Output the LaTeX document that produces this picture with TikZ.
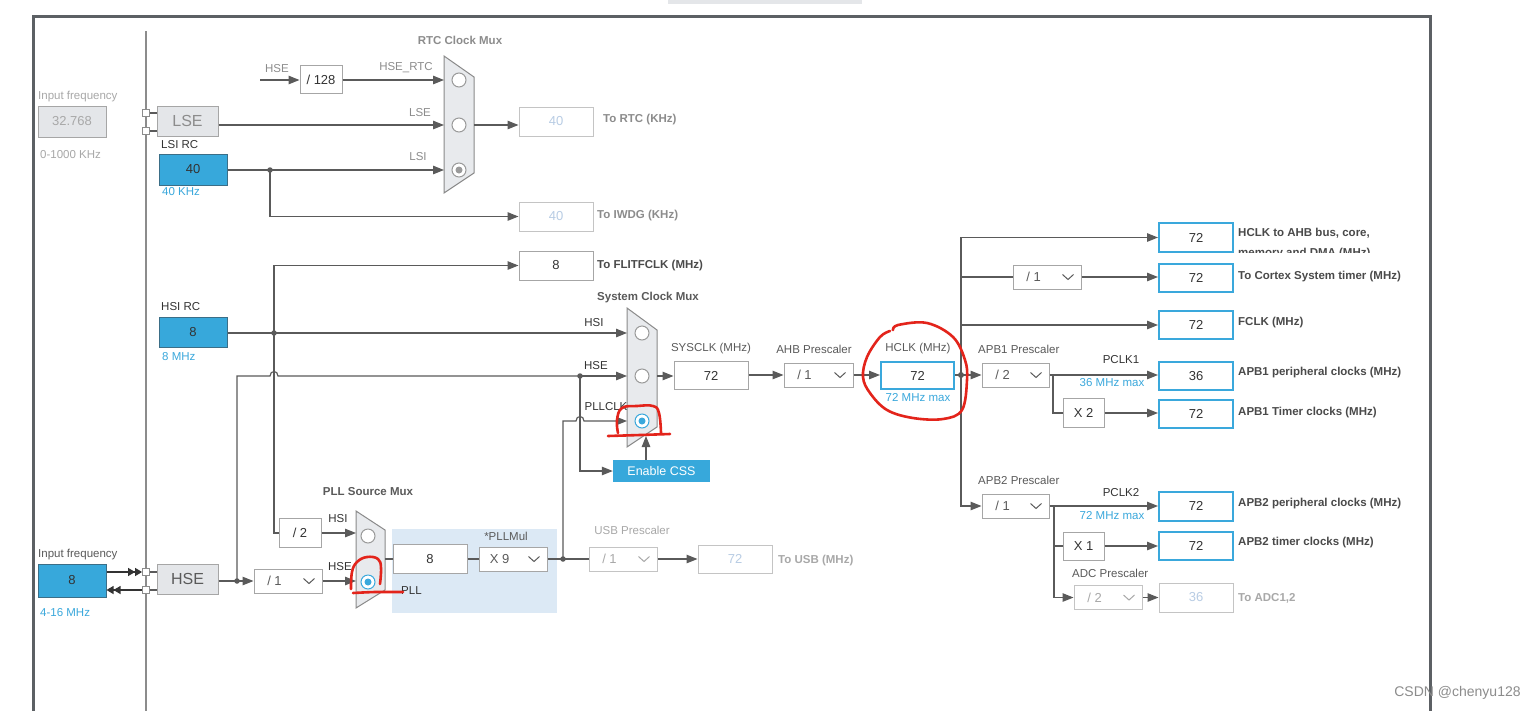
\documentclass[tikz,border=0pt]{standalone}
\usepackage{fontspec}
\setmainfont{Liberation Sans}
\usetikzlibrary{arrows.meta}
\definecolor{wirec}{HTML}{5A5A5A}
\definecolor{boxd}{HTML}{A6A6A6}
\definecolor{boxl}{HTML}{C4C4C4}
\definecolor{bluef}{HTML}{37A8DB}
\definecolor{bluedk}{HTML}{3B6E87}
\definecolor{blueb}{HTML}{3AA8DC}
\definecolor{lgray}{HTML}{E4E6E9}
\definecolor{txtd}{HTML}{333333}
\definecolor{txtr}{HTML}{4A4A4A}
\definecolor{txtg}{HTML}{8C8C8C}
\definecolor{txtg2}{HTML}{5A5A5A}
\definecolor{txtl}{HTML}{A8A8A8}
\definecolor{dis}{HTML}{B8CCE4}
\definecolor{pllbg}{HTML}{DCE9F5}
\definecolor{muxf}{HTML}{E8EAED}
\definecolor{muxd}{HTML}{8A8A8A}
\definecolor{radc}{HTML}{9A9A9A}
\definecolor{redmk}{HTML}{E3241B}
\definecolor{framec}{HTML}{5C6064}
\newcommand\myfl{\fontsize{11.5}{13}\selectfont}
\newcommand\myfv{\fontsize{13}{15}\selectfont}
\newcommand\myfb{\fontsize{16}{18}\selectfont}
\newcommand\myfe{\fontsize{12.5}{14}\selectfont}
\tikzset{
 wire/.style={draw=wirec, line width=1.15pt},
 arr/.style={-{Triangle[length=11pt,width=8.5pt]}},
 vbox/.style={draw=boxd, fill=white, line width=1pt, inner sep=0pt, font=\myfv, text=txtd},
 bbox/.style={draw=blueb, fill=white, line width=2pt, inner sep=0pt, font=\myfv, text=txtd},
 dbox/.style={draw=boxl, fill=white, line width=1pt, inner sep=0pt, font=\myfv, text=dis},
 ibox/.style={draw=bluedk, fill=bluef, line width=1pt, inner sep=0pt, font=\myfv, text=txtd},
 gbox/.style={draw=boxd, fill=lgray, line width=1pt, inner sep=0pt},
 lbl/.style={font=\myfl, text=txtd, inner sep=0pt},
 rl/.style={font=\myfl\bfseries, text=txtr, anchor=west, inner sep=0pt},
 mt/.style={font=\myfl\bfseries, text=txtg2, inner sep=0pt},
 jdot/.style={circle, fill=wirec, inner sep=0pt, minimum size=5.5pt},
 sqr/.style={draw=txtg, fill=white, minimum size=7pt, inner sep=0pt, line width=0.8pt},
 mux/.style={fill=muxf, draw=muxd, line width=1pt},
 rad/.style={circle, draw=radc, fill=white, minimum size=14pt, inner sep=0pt, line width=1pt},
 radsel/.style={circle, draw=blueb, fill=white, minimum size=14pt, inner sep=0pt, line width=1pt},
 redm/.style={draw=redmk, line width=2.6pt, line cap=round, line join=round},
}
% name, x, y, width, text, text colour, border colour
\newcommand\ddn[7]{%
 \node[draw=#7, fill=white, line width=1pt, minimum width=#4pt, minimum height=24pt, inner sep=0pt] (#1) at (#2,#3) {};
 \node[font=\myfv, text=#6, inner sep=0pt] at ([xshift=21pt]#1.west) {#5};
 \draw[#6, line width=1pt] ([xshift=-19pt,yshift=2.5pt]#1.east) -- ([xshift=-13.5pt,yshift=-2.5pt]#1.east) -- ([xshift=-8pt,yshift=2.5pt]#1.east);}
\begin{document}
\begin{tikzpicture}[x=1pt,y=-1pt]
\useasboundingbox (0,0) rectangle (1536,710);
\clip (0,0) rectangle (1536,710);
\fill[white] (0,0) rectangle (1536,710);
\fill[lgray] (668,0) rectangle (862,4);
\draw[framec, line width=3pt] (33,16) rectangle (1430,740);
\draw[txtg, line width=1.2pt] (146,31) -- (146,712);

% ---------- LSE / LSI ----------
\node[lbl, anchor=west, text=txtl] at (38,97) {Input frequency};
\node[gbox, minimum width=68pt, minimum height=31pt, font=\myfv, text=txtl] (lsein) at (72,121.5) {32.768};
\node[lbl, anchor=west, text=txtl] at (40,155) {0-1000 KHz};
\node[sqr] (sqa) at (146,113) {};
\node[sqr] (sqb) at (146,131) {};
\node[gbox, minimum width=61pt, minimum height=30pt, font=\myfb, text=txtg] (lse) at (187.5,121) {LSE};
\draw[wire] (sqa.east) -- (sqa -| lse.west);
\draw[wire] (sqb.east) -- (sqb -| lse.west);
\node[lbl, anchor=west] at (161,145) {LSI RC};
\node[ibox, minimum width=68pt, minimum height=31pt] (lsi) at (193,169.5) {40};
\node[lbl, anchor=west, text=blueb] at (162,192) {40 KHz};

% ---------- RTC mux ----------
\draw[mux] (444,56) -- (474,77) -- (474,173) -- (444,193) -- cycle;
\node[rad] (r1) at (459,80) {};
\node[rad] (r2) at (459,125) {};
\node[rad] (r3) at (459,170) {};
\fill[radc] (r3) circle (3.5pt);
\coordinate (rin1) at (444,80);
\coordinate (rin2) at (444,125);
\coordinate (rin3) at (444,170);
\coordinate (rout) at (474,125);
\node[mt, text=txtg] at (460,40) {RTC Clock Mux};
\coordinate (hsefree) at (260,80);
\node[vbox, minimum width=42pt, minimum height=28pt] (d128) at (321,79.5) {/ 128};
\draw[wire,arr] (hsefree) -- (d128.west |- hsefree);
\node[lbl, text=txtg] at (277,69) {HSE};
\draw[wire,arr] (d128.east |- rin1) -- (rin1);
\node[lbl, text=txtg] at (406,68) {HSE\_RTC};
\draw[wire,arr] (lse.east |- rin2) -- (rin2);
\node[lbl, text=txtg] at (420,113) {LSE};
\draw[wire,arr] (lsi.east |- rin3) -- (rin3);
\node[jdot] (lsij) at (270,170) {};
\node[lbl, text=txtg] at (418,157) {LSI};
\node[dbox, minimum width=74pt, minimum height=29pt] (rtc) at (556,121.5) {40};
\draw[wire,arr] (rout) -- (rtc.west |- rout);
\node[rl, text=txtg] at (603,120) {To RTC (KHz)};
\node[dbox, minimum width=74pt, minimum height=29pt] (iwdg) at (556,216.5) {40};
\draw[wire,arr] (lsij.center) |- (iwdg.west);
\node[rl, text=txtg] at (597,216) {To IWDG (KHz)};

% ---------- HSI / system mux ----------
\node[vbox, minimum width=74pt, minimum height=29pt] (flit) at (556,265.5) {8};
\node[rl] at (597,266) {To FLITFCLK (MHz)};
\node[lbl, anchor=west] at (161,307) {HSI RC};
\node[ibox, minimum width=68pt, minimum height=30pt] (hsi) at (193,332) {8};
\node[lbl, anchor=west, text=blueb] at (162,357) {8 MHz};

\draw[mux] (627,308) -- (657,330) -- (657,427) -- (627,447) -- cycle;
\node[rad] (s1) at (642,333) {};
\node[rad] (s2) at (642,376) {};
\node[radsel] (s3) at (642,421) {};
\fill[blueb] (s3) circle (3.5pt);
\coordinate (sin1) at (627,333);
\coordinate (sin2) at (627,376);
\coordinate (sin3) at (627,421);
\coordinate (sout) at (657,376);
\coordinate (cssup) at (646,436);
\node[mt] at (648,298) {System Clock Mux};

\node[jdot] (hsij) at (274,333) {};
\draw[wire,arr] (hsi.east |- sin1) -- (sin1);
\node[lbl] at (594,323) {HSI};
\draw[wire,arr] (hsij.center) |- (flit.west);

\node[jdot] (hsej) at (580,376) {};
\node[jdot] (hsebj) at (237,581) {};
\draw[wire] (hsebj.center) -- (237,376) -- (270,376) .. controls (270,370) and (278,370) .. (278,376) -- (hsej.center);
\draw[wire,arr] (hsej.center) -- (sin2);
\node[lbl] at (596,366) {HSE};
\node[fill=bluef, text=white, font=\myfe, minimum width=97pt, minimum height=22pt, inner sep=0pt] (css) at (661.5,471) {Enable CSS};
\draw[wire,arr] (hsej.center) |- (css.west);
\draw[wire,arr] (css.north -| cssup) -- (cssup);

\node[jdot] (pllj) at (563,559) {};
\draw[wire,arr] (pllj.center) -- (563,421) -- (576,421) .. controls (576,415) and (584,415) .. (584,421) -- (sin3);
\node[lbl] at (606,407) {PLLCLK};

\node[vbox, minimum width=74pt, minimum height=28pt] (sys) at (711,375.5) {72};
\draw[wire,arr] (sout) -- (sys.west |- sout);
\node[lbl, text=txtg2] at (711,349) {SYSCLK (MHz)};
\ddn{ahb}{818.5}{375}{69}{/ 1}{txtg2}{boxd}
\draw[wire,arr] (sys.east |- ahb.west) -- (ahb.west);
\node[lbl, text=txtg2] at (814,349) {AHB Prescaler};
\node[bbox, minimum width=73pt, minimum height=27pt] (hclk) at (917.5,375.5) {72};
\draw[wire,arr] (ahb.east) -- (hclk.west |- ahb.east);
\node[lbl, text=txtg2] at (918,349) {HCLK (MHz)};
\node[lbl, text=blueb] at (918,398) {72 MHz max};

% ---------- right side ----------
\node[circle, fill=wirec, inner sep=0pt, minimum size=6pt] (hj) at (961,375) {};
\draw[wire] (hclk.east |- hj) -- (hj.center);
\ddn{apb1}{1015.5}{375}{67}{/ 2}{txtg2}{boxd}
\draw[wire,arr] (hj.center) -- (apb1.west);
\node[lbl, anchor=west, text=txtg2] at (978,349) {APB1 Prescaler};

\node[bbox, minimum width=74pt, minimum height=29pt] (oahb) at (1196,237.5) {72};
\draw[wire,arr] (hj.center) |- (oahb.west);
\node[rl] at (1238,233) {HCLK to AHB bus, core,};
\begin{scope}
\clip (1236,240) rectangle (1425,252.5);
\node[font=\myfl\bfseries, text=txtr, anchor=base west, inner sep=0pt] at (1238,256) {memory and DMA (MHz)};
\end{scope}

\ddn{cdd}{1047}{277}{68}{/ 1}{txtg2}{boxd}
\node[bbox, minimum width=74pt, minimum height=28pt] (ocort) at (1196,278) {72};
\draw[wire] (hj |- cdd.west) -- (cdd.west);
\draw[wire,arr] (cdd.east) -- (ocort.west |- cdd.east);
\node[rl] at (1238,277) {To Cortex System timer (MHz)};

\node[bbox, minimum width=74pt, minimum height=28pt] (ofclk) at (1196,325) {72};
\draw[wire,arr] (hj |- ofclk.west) -- (ofclk.west);
\node[rl] at (1238,323) {FCLK (MHz)};

\node[bbox, minimum width=74pt, minimum height=28pt] (oapb1) at (1196,376) {36};
\draw[wire,arr] (apb1.east) -- (oapb1.west |- apb1.east);
\node[lbl] at (1121,360) {PCLK1};
\node[lbl, text=blueb] at (1112,383) {36 MHz max};
\node[rl] at (1238,373) {APB1 peripheral clocks (MHz)};
\coordinate (b1) at (1053,375);
\node[vbox, minimum width=41pt, minimum height=29pt] (x2) at (1083.5,413) {X 2};
\draw[wire] (b1) |- (x2.west);
\node[bbox, minimum width=74pt, minimum height=28pt] (otim1) at (1196,414) {72};
\draw[wire,arr] (x2.east) -- (otim1.west |- x2.east);
\node[rl] at (1238,413) {APB1 Timer clocks (MHz)};

\ddn{apb2}{1015.5}{506}{67}{/ 1}{txtg2}{boxd}
\draw[wire,arr] (hj.center) |- (apb2.west);
\node[lbl, anchor=west, text=txtg2] at (978,480) {APB2 Prescaler};
\node[bbox, minimum width=74pt, minimum height=29pt] (oapb2) at (1196,506) {72};
\draw[wire,arr] (apb2.east) -- (oapb2.west |- apb2.east);
\node[lbl] at (1121,493) {PCLK2};
\node[lbl, text=blueb] at (1112,516) {72 MHz max};
\node[rl] at (1238,504) {APB2 peripheral clocks (MHz)};
\coordinate (b2) at (1054,506);
\node[vbox, minimum width=41pt, minimum height=28pt] (x1) at (1083.5,546) {X 1};
\draw[wire] (b2 |- x1.west) -- (x1.west);
\node[bbox, minimum width=74pt, minimum height=28pt] (otim2) at (1196,546) {72};
\draw[wire,arr] (x1.east) -- (otim2.west |- x1.east);
\node[rl] at (1238,543) {APB2 timer clocks (MHz)};
\node[lbl, anchor=west, text=txtg2] at (1072,573) {ADC Prescaler};
\ddn{adcdd}{1108}{597.5}{68}{/ 2}{txtl}{boxl}
\draw[wire,arr] (b2) |- (adcdd.west);
\node[dbox, minimum width=74pt, minimum height=29pt] (oadc) at (1196,597.5) {36};
\draw[wire,arr] (adcdd.east) -- (oadc.west);
\node[rl, text=txtl] at (1238,598) {To ADC1,2};

% ---------- HSE / PLL ----------
\node[lbl, anchor=west, text=txtg2] at (38,555) {Input frequency};
\node[ibox, minimum width=68pt, minimum height=33pt] (hsein) at (72,580.5) {8};
\node[lbl, anchor=west, text=blueb] at (40,613) {4-16 MHz};
\node[sqr] (sqc) at (146,572) {};
\node[sqr] (sqd) at (146,590) {};
\draw[draw=txtd, line width=1.1pt, -{Triangle[length=7pt,width=8pt]Triangle[length=7pt,width=8pt]}] (hsein.east |- sqc) -- (sqc.west);
\draw[draw=txtd, line width=1.1pt, {Triangle[length=7pt,width=8pt]Triangle[length=7pt,width=8pt]}-] (hsein.east |- sqd) -- (sqd.west);
\node[gbox, minimum width=61pt, minimum height=30pt, font=\myfb, text=txtg2] (hse) at (187.5,579) {HSE};
\draw[wire] (sqc.east) -- (sqc -| hse.west);
\draw[wire] (sqd.east) -- (sqd -| hse.west);
\draw[wire] (hse.east |- hsebj) -- (hsebj.center);
\ddn{d1}{288}{581}{68}{/ 1}{txtg2}{boxd}
\draw[wire,arr] (hsebj.center) -- (d1.west);
\node[vbox, minimum width=42pt, minimum height=29pt] (d2) at (300,533) {/ 2};
\draw[wire] (hsij.center) |- (d2.west);

\fill[pllbg] (392,529) rectangle (557,613);
\draw[mux] (356,511) -- (385,530) -- (385,590) -- (356,608) -- cycle;
\node[rad] (p1) at (368,536) {};
\node[radsel] (p2) at (368,582) {};
\fill[blueb] (p2) circle (3.5pt);
\coordinate (pin1) at (356,533);
\coordinate (pin2) at (356,581);
\coordinate (pout) at (385,559);
\draw[wire,arr] (d2.east |- pin1) -- (pin1);
\draw[wire,arr] (d1.east |- pin2) -- (pin2);
\node[lbl] at (338,519) {HSI};
\node[lbl] at (340,567) {HSE};
\node[mt] at (368,492) {PLL Source Mux};
\node[vbox, minimum width=74pt, minimum height=29pt] (pllin) at (430,559) {8};
\draw[wire] (pout) -- (pllin.west |- pout);
\node[lbl, text=txtg2] at (506,536) {*PLLMul};
\ddn{x9}{513}{559}{68}{X 9}{txtg2}{boxd}
\draw[wire] (pllin.east |- x9.west) -- (x9.west);
\draw[wire] (x9.east) -- (pllj.center);
\node[lbl, anchor=west] at (401,591) {PLL};
\ddn{usbdd}{623}{559}{68}{/ 1}{txtl}{boxl}
\draw[wire] (pllj.center) -- (usbdd.west);
\node[dbox, minimum width=74pt, minimum height=28pt] (usb) at (735,559) {72};
\draw[wire,arr] (usbdd.east) -- (usb.west |- usbdd.east);
\node[rl, text=txtl] at (778,561) {To USB (MHz)};
\node[lbl, text=txtl] at (632,530) {USB Prescaler};

% ---------- red hand marks ----------
\draw[redm] plot[smooth, tension=0.7] coordinates {(351,589) (352,572) (357,562) (367,557) (378,559) (381,568) (380,584)};
\draw[redm] plot[smooth, tension=0.5] coordinates {(353,593) (375,592) (403,592)};
\draw[redm] plot[smooth, tension=0.7] coordinates {(618,433) (617,420) (622,408) (637,406) (653,406) (659,413) (661,433)};
\draw[redm] plot[smooth, tension=0.5] coordinates {(608,436) (640,435) (670,434)};
\draw[redm] plot[smooth, tension=0.6] coordinates {(893,330) (898,325) (927,323) (953,337) (965,360) (967,380) (962,410) (943,419) (913,418) (887,410) (870,393) (863,377) (867,357) (880,337) (890,331)};

\node[font=\fontsize{14}{16}\selectfont, text=txtg, inner sep=0pt] (wm) at (1457.5,693) {CSDN @chenyu128};
\end{tikzpicture}
\end{document}
